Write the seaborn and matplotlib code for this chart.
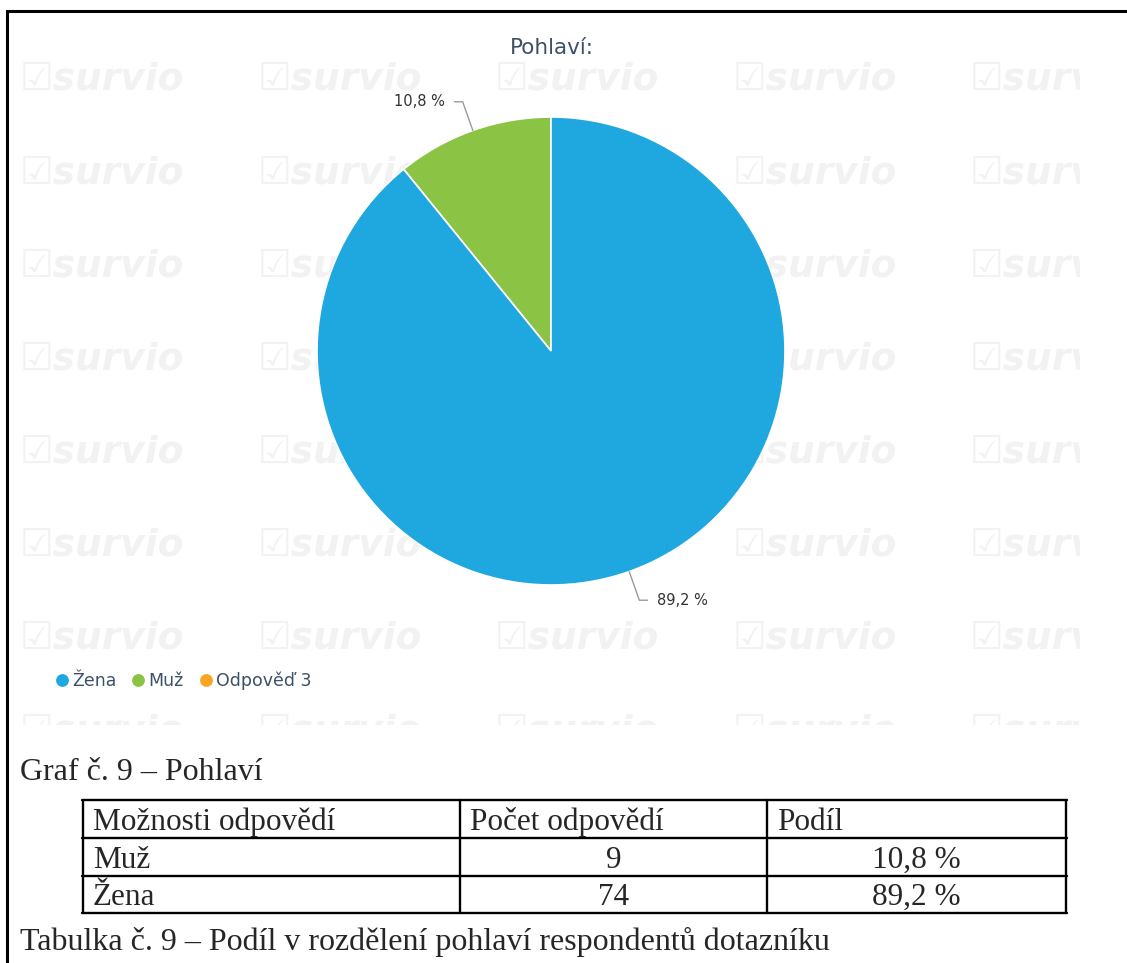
import numpy as np
import matplotlib.pyplot as plt
import seaborn as sns

# data
categories = ["Žena", "Muž", "Odpověď 3"]
counts = [74, 9, 0]
share_labels = ["89,2 %", "10,8 %", "0 %"]
colors = ["#1fa8e0", "#8bc445", "#f8a526"]

table_header = ["Možnosti odpovědí", "Počet odpovědí", "Podíl"]
table_rows = [["Muž", "9", "10,8 %"], ["Žena", "74", "89,2 %"]]

sns.set_theme(style="white")
plt.rcParams["font.family"] = ["DejaVu Sans"]

W, H = 1127, 963
fig = plt.figure(figsize=(W / 100, H / 100), dpi=100)
fig.patch.set_facecolor("white")


def box(x0, y0, x1, y1):
    """pixel box (top-left origin) -> figure rect"""
    return [x0 / W, 1 - y1 / H, (x1 - x0) / W, (y1 - y0) / H]


# page layer in pixel coordinates
bg = fig.add_axes([0, 0, 1, 1])
bg.set_xlim(0, W)
bg.set_ylim(H, 0)
bg.axis("off")

# watermark layer, clipped to the chart area
wm = fig.add_axes(box(15, 20, 1080, 725))
wm.set_xlim(15, 1080)
wm.set_ylim(725, 20)
wm.axis("off")
for yy in np.arange(80, 740, 93):
    for xx in np.arange(20, 1100, 237.5):
        wm.text(xx, yy, "☑survio", fontsize=27, fontweight="bold",
                fontstyle="italic", color="#f2f2f2", ha="left", va="center",
                clip_on=True)

# pie
cx, cy, r = 551, 351, 234
ax = fig.add_axes(box(cx - r, cy - r, cx + r, cy + r))

vals = [counts[1], counts[0]]
wedges, _ = ax.pie(vals, colors=[colors[1], colors[0]], startangle=90,
                   counterclock=True, radius=1,
                   wedgeprops=dict(edgecolor="white", linewidth=1.2))
ax.set_xlim(-1, 1)
ax.set_ylim(-1, 1)
ax.set_aspect("equal")
ax.axis("off")

for w, lab in zip(wedges, [share_labels[1], share_labels[0]]):
    mid = np.deg2rad((w.theta1 + w.theta2) / 2)
    c, s = np.cos(mid), np.sin(mid)
    p0 = (c, s)
    p1 = (1.13 * c, 1.13 * s)
    side = 1 if c >= 0 else -1
    p2 = (p1[0] + side * 0.035, p1[1])
    ax.plot([p0[0], p1[0], p2[0]], [p0[1], p1[1], p2[1]], color="#9a9a9a",
            lw=1, clip_on=False, solid_capstyle="round")
    ax.text(p2[0] + side * 0.04, p2[1], lab, fontsize=10.5, color="#333333",
            ha="left" if side > 0 else "right", va="center")

# title
bg.text(552, 48, "Pohlaví:", fontsize=15.5, color="#3e5068",
        ha="center", va="center")

# legend
lx = 62
for name, col in zip(categories, colors):
    bg.scatter([lx], [680], s=85, color=col, zorder=3, linewidths=0)
    t = bg.text(lx + 10, 681, name, fontsize=12.5, color="#3e5068",
                ha="left", va="center")
    fig.canvas.draw()
    bb = t.get_window_extent()
    lx = lx + 10 + bb.width + 22

# outer frame
bg.plot([7, 7, W], [H, 11, 11], color="black", lw=2.2, solid_joinstyle="miter")

# captions
serif = ["Liberation Serif", "DejaVu Serif"]
fs = 22.5
bg.text(20, 780, "Graf č. 9 – Pohlaví", fontsize=23, family=serif,
        ha="left", va="baseline")
bg.text(20, 950, "Tabulka č. 9 – Podíl v rozdělení pohlaví respondentů dotazníku",
        fontsize=23, family=serif, ha="left", va="baseline")

# table
col_edges = [83, 460, 767, 1066]
row_edges = [800, 838, 876, 913]
for x in col_edges:
    bg.plot([x, x], [row_edges[0], row_edges[-1]], color="black", lw=1.7)
for y in row_edges:
    bg.plot([col_edges[0] - 0.8, col_edges[-1] + 0.8], [y, y], color="black",
            lw=1.7)

pad = 10
for j, head in enumerate(table_header):
    bg.text(col_edges[j] + pad, row_edges[1] - 8, head,
            fontsize=fs, family=serif, ha="left", va="baseline")
for i, row in enumerate(table_rows):
    yb = row_edges[i + 2] - 8
    bg.text(col_edges[0] + pad, yb, row[0], fontsize=fs, family=serif,
            ha="left", va="baseline")
    bg.text((col_edges[1] + col_edges[2]) / 2, yb, row[1], fontsize=fs,
            family=serif, ha="center", va="baseline")
    bg.text((col_edges[2] + col_edges[3]) / 2, yb, row[2], fontsize=fs,
            family=serif, ha="center", va="baseline")

fig.savefig("out.png", dpi=100, facecolor="white")
